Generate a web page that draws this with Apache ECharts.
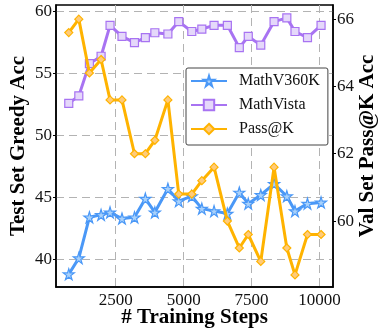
<!DOCTYPE html>
<html>
<head>
<meta charset="utf-8">
<script src="https://cdn.jsdelivr.net/npm/echarts@6/dist/echarts.min.js"></script>
<style>
  html, body { margin: 0; padding: 0; background: #fff; }
  #chart { width: 380px; height: 330px; }
</style>
</head>
<body>
<div id="chart"></div>
<script>
// training steps (x)
const steps = [770, 1140, 1530, 1960, 2290, 2730, 3190, 3590, 3940, 4420, 4820, 5300,
    5670, 6120, 6610, 7050, 7380, 7840, 8330, 8800, 9100, 9560, 10060];
// left axis: test set greedy acc
const mathv360k = [38.8, 40.1, 43.4, 43.6, 43.8, 43.3, 43.4, 44.9, 43.8, 45.7, 44.7, 45.1,
    44.1, 43.9, 43.7, 45.4, 44.5, 45.2, 46.1, 45.1, 43.9, 44.5, 44.6];
const mathvista = [52.6, 53.2, 55.8, 56.4, 58.9, 58.0, 57.5, 57.9, 58.3, 58.2, 59.2, 58.4,
    58.6, 58.9, 58.9, 57.1, 58.0, 57.3, 59.2, 59.5, 58.4, 57.9, 58.9];
// right axis: val set pass@k acc
const passk = [65.6, 66.0, 64.4, 64.8, 63.6, 63.6, 62.0, 62.0, 62.4, 63.6, 60.8, 60.8,
    61.2, 61.6, 60.0, 59.2, 59.6, 58.8, 61.6, 59.2, 58.4, 59.6, 59.6];

const x_ticks = [2500, 5000, 7500, 10000];
const left_ticks = [40, 45, 50, 55, 60];
const right_ticks = [60, 62, 64, 66];

const FONT = "Liberation Serif";
const STAR = "path://M50,0 L61,35 L98,35 L68,57 L79,91 L50,70 L21,91 L32,57 L2,35 L39,35 Z";

const pairs = (ys) => steps.map((s, i) => [s, ys[i]]);

const tick_label = { fontFamily: FONT, fontSize: 17, color: "#111" };
const name_style = { fontFamily: FONT, fontSize: 21, fontWeight: "bold", color: "#000" };
const dash_grid = { show: true, lineStyle: { color: "#b3b3b3", width: 1, type: [8, 5] } };
const black_line = { show: true, onZero: false, lineStyle: { color: "#000", width: 1.5 } };

function line_series(name, data, color, fill, symbol, size, y_index, z) {
    return {
        name,
        type: "line",
        yAxisIndex: y_index,
        data: pairs(data),
        symbol,
        symbolSize: size,
        showAllSymbol: true,
        z,
        lineStyle: { color, width: 3 },
        itemStyle: { color: fill, borderColor: color, borderWidth: 1.2 },
        emphasis: { disabled: true },
    };
}

const chart = echarts.init(document.getElementById("chart"), null, { renderer: "canvas" });

chart.setOption({
    animation: false,
    grid: {
        left: 56, right: 47, top: 5, bottom: 43,
        show: true, borderColor: "#000", borderWidth: 1.5,
        outerBoundsMode: "none",
    },
    legend: {
        orient: "vertical",
        left: 186,
        top: 68,
        padding: [5, 8, 8, 4],
        itemWidth: 36,
        itemHeight: 13,
        itemGap: 8,
        backgroundColor: "#fff",
        borderColor: "#444",
        borderWidth: 1,
        borderRadius: 2,
        textStyle: { fontFamily: FONT, fontSize: 16, color: "#111", padding: [0, 0, 0, 7] },
        data: ["MathV360K", "MathVista", "Pass@K"],
    },
    xAxis: {
        type: "value",
        min: 300,
        max: 10500,
        name: "# Training Steps",
        nameLocation: "middle",
        nameGap: 20,
        nameMoveOverlap: false,
        nameTextStyle: name_style,
        axisLine: black_line,
        axisTick: { show: false, customValues: x_ticks },
        axisLabel: { ...tick_label, margin: 5, customValues: x_ticks, formatter: (v) => String(v) },
        splitLine: dash_grid,
    },
    yAxis: [
        {
            type: "value",
            position: "left",
            min: 37.77,
            max: 60.54,
            name: "Test Set Greedy Acc",
            nameLocation: "middle",
            nameGap: 27,
            nameMoveOverlap: false,
            nameTextStyle: name_style,
            axisLine: black_line,
            axisTick: { show: true, inside: false, length: 3, customValues: left_ticks, lineStyle: { color: "#000" } },
            axisLabel: { ...tick_label, margin: 4, customValues: left_ticks },
            splitLine: dash_grid,
        },
        {
            type: "value",
            position: "right",
            min: 58.04,
            max: 66.42,
            name: "Val Set Pass@K Acc",
            nameLocation: "middle",
            nameGap: 24,
            nameMoveOverlap: false,
            nameTextStyle: name_style,
            axisLine: black_line,
            axisTick: { show: true, inside: false, length: 3, customValues: right_ticks, lineStyle: { color: "#000" } },
            axisLabel: { ...tick_label, margin: 4, customValues: right_ticks },
            splitLine: { show: false },
        },
    ],
    series: [
        line_series("MathV360K", mathv360k, "#4A98F7", "#A8D1FB", STAR, 11, 0, 2),
        line_series("MathVista", mathvista, "#A873F2", "#E5D8FA", "rect", 8, 0, 3),
        line_series("Pass@K", passk, "#FFB300", "#FFCB7A", "diamond", 8, 1, 4),
    ],
});
</script>
</body>
</html>
